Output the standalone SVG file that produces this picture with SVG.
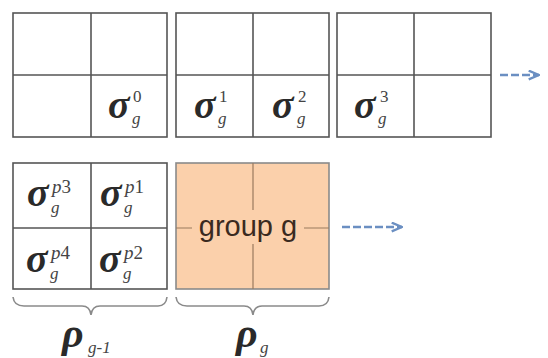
<svg xmlns="http://www.w3.org/2000/svg" width="548" height="358" viewBox="0 0 548 358">
<defs>
<style>
.box{fill:#fff;stroke:#555;stroke-width:1.6}
.ln{stroke:#555;stroke-width:1.6;fill:none}
.sg{font-family:"Liberation Serif",serif;font-weight:bold;font-style:italic;font-size:40px;fill:#2a2a2a}
.sup{font-family:"Liberation Serif",serif;font-size:17px;fill:#444}
.supi{font-family:"Liberation Serif",serif;font-style:italic;font-size:19px;fill:#444}
.sub{font-family:"Liberation Serif",serif;font-style:italic;font-size:17px;fill:#444}
.rho{font-family:"Liberation Serif",serif;font-weight:bold;font-style:italic;font-size:42px;fill:#2a2a2a}
.brace{stroke:#8a8a8a;stroke-width:1.6;fill:none}
.arr{stroke:#6b8fc2;stroke-width:2.6;stroke-dasharray:8,3;fill:none}
</style>
<marker id="ah" viewBox="0 0 12 10" refX="11" refY="5" markerWidth="13" markerHeight="11" markerUnits="userSpaceOnUse" orient="auto">
<path d="M1.5,1 L11,5 L1.5,9" fill="none" stroke="#6b8fc2" stroke-width="2.2" stroke-linejoin="miter"/>
</marker>
</defs>
<rect width="548" height="358" fill="#fff"/>

<g id="block0">
<rect class="box" x="13" y="13" width="154" height="124"/>
<line class="ln" x1="91" y1="13" x2="91" y2="137"/>
<line class="ln" x1="13" y1="75" x2="167" y2="75"/>
<text class="sg" x="108" y="118">σ</text>
<text class="sup" x="133" y="102">0</text>
<text class="sub" x="132" y="124">g</text>
</g>

<g id="block1">
<rect class="box" x="176" y="13" width="153" height="124"/>
<line class="ln" x1="253" y1="13" x2="253" y2="137"/>
<line class="ln" x1="176" y1="75" x2="329" y2="75"/>
<text class="sg" x="194" y="118">σ</text>
<text class="sup" x="219" y="102">1</text>
<text class="sub" x="218" y="124">g</text>
<text class="sg" x="272" y="118">σ</text>
<text class="sup" x="298" y="102">2</text>
<text class="sub" x="297" y="124">g</text>
</g>

<g id="block2">
<rect class="box" x="337" y="13" width="154" height="124"/>
<line class="ln" x1="414" y1="13" x2="414" y2="137"/>
<line class="ln" x1="337" y1="75" x2="491" y2="75"/>
<text class="sg" x="354" y="118">σ</text>
<text class="sup" x="380" y="102">3</text>
<text class="sub" x="378" y="124">g</text>
</g>

<g id="block-prev">
<rect class="box" x="13" y="163" width="154" height="126"/>
<line class="ln" x1="91" y1="163" x2="91" y2="289"/>
<line class="ln" x1="13" y1="228" x2="167" y2="228"/>
<text class="sg" x="27" y="206">σ</text>
<text class="supi" x="52" y="193">p<tspan font-style="normal">3</tspan></text>
<text class="sub" x="51" y="213">g</text>
<text class="sg" x="100" y="206">σ</text>
<text class="supi" x="125" y="193">p<tspan font-style="normal">1</tspan></text>
<text class="sub" x="124" y="213">g</text>
<text class="sg" x="26" y="272">σ</text>
<text class="supi" x="51" y="259">p<tspan font-style="normal">4</tspan></text>
<text class="sub" x="50" y="279">g</text>
<text class="sg" x="99" y="272">σ</text>
<text class="supi" x="124" y="259">p<tspan font-style="normal">2</tspan></text>
<text class="sub" x="123" y="279">g</text>
</g>

<g id="group-g">
<rect x="176" y="163" width="153" height="126" fill="#fbd0ab" stroke="#8a8a8a" stroke-width="1.6"/>
<line x1="253" y1="163" x2="253" y2="289" stroke="#9a7a5e" stroke-width="1.2"/>
<line x1="176" y1="228" x2="329" y2="228" stroke="#9a7a5e" stroke-width="1.2"/>
<rect x="192" y="210" width="112" height="34" fill="#fbd0ab"/>
<text x="248" y="236" text-anchor="middle" font-family="'Liberation Sans',Arial,sans-serif" font-size="29" fill="#3a2a20">group g</text>
</g>

<g id="connectors">
<line class="arr" x1="500" y1="75" x2="539" y2="75" marker-end="url(#ah)"/>
<line class="arr" x1="342" y1="227" x2="402" y2="227" marker-end="url(#ah)"/>
</g>

<g id="brace-prev">
<path class="brace" d="M13,297 Q14,306 24,306 L82,306 Q90,306 91,315 Q92,306 100,306 L158,306 Q166,306 167,297"/>
<text class="rho" x="62" y="347">ρ</text>
<text class="sub" x="88" y="353">g-1</text>
</g>

<g id="brace-g">
<path class="brace" d="M176,297 Q177,306 187,306 L244,306 Q252,306 253,315 Q254,306 262,306 L319,306 Q328,306 329,297"/>
<text class="rho" x="236" y="347">ρ</text>
<text class="sub" x="260" y="353">g</text>
</g>
</svg>
